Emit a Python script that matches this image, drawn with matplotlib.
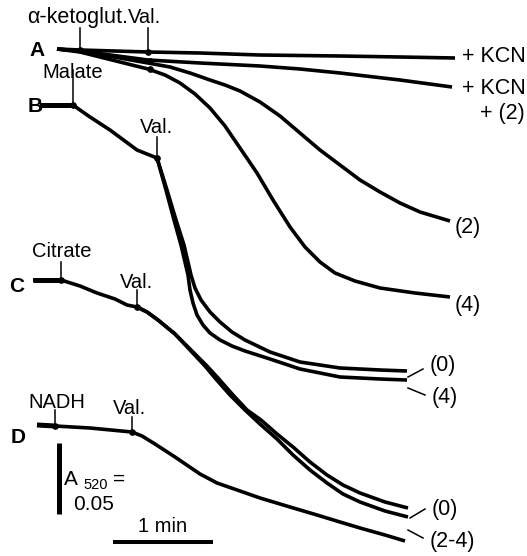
import matplotlib.pyplot as plt
import numpy as np

plt.rcParams['font.family'] = ['Liberation Sans', 'DejaVu Sans']

# traces; x: 100 units = 1 min, y: 71 units = 0.05 A520 (downward)
PX_MIN = 100.0
PX_A = 71 / 0.05

# A: alpha-ketoglutarate
a_kcn_x = [57, 80, 148, 200, 260, 340, 400, 455]
a_kcn_y = [49, 50, 52, 53, 55, 56, 57, 58]
a_kcn2_x = [57, 80, 148, 200, 260, 300, 340, 400, 452]
a_kcn2_y = [49, 51, 60, 63, 66, 69, 73, 80, 87]
a_2_x = [57, 80, 148, 170, 190, 210, 225, 240, 260, 280, 300, 320, 340, 360, 380, 400, 420, 450]
a_2_y = [49, 51, 63, 67, 73, 80, 85, 91, 102, 116, 133, 150, 165, 180, 192, 203, 212, 221]
a_4_x = [57, 80, 148, 165, 180, 195, 210, 225, 240, 257, 273, 290, 305, 320, 335, 355, 380, 415, 450]
a_4_y = [49, 52, 69, 75, 83, 94, 108, 126, 148, 173, 200, 227, 247, 262, 273, 281, 288, 293, 297]

# B: malate
b_pre_x = [40, 73, 80, 90, 110, 137, 157]
b_pre_y = [105, 105, 110, 117, 130, 150, 158]
b_0_x = [157, 167, 176, 184, 191, 195, 201, 210, 220, 232, 245, 270, 300, 340, 380, 407]
b_0_y = [158, 190, 220, 245, 275, 288, 300, 312, 322, 332, 340, 352, 362, 368, 370, 371]
b_4_x = [157, 166, 174, 181, 188, 190, 193, 197, 203, 210, 220, 232, 245, 270, 300, 340, 380, 407]
b_4_y = [158, 190, 220, 245, 275, 290, 303, 315, 325, 333, 340, 346, 351, 359, 369, 377, 379, 380]

# C: citrate
c_pre_x = [33, 61, 80, 97, 115, 127, 137]
c_pre_y = [280, 280, 286, 293, 299, 305, 307]
c_0_x = [137, 147, 158, 175, 191, 207, 218, 233, 247, 261, 277, 293, 310, 327, 343, 360, 385, 408]
c_0_y = [307, 312, 320, 334, 350, 366, 378, 395, 410, 420, 434, 447, 462, 475, 485, 493, 502, 508]
c_24_x = [137, 147, 158, 175, 190, 205, 215, 230, 245, 260, 277, 293, 310, 327, 343, 360, 385, 408]
c_24_y = [307, 312, 320, 334, 350, 366, 378, 395, 410, 424, 439, 455, 470, 483, 494, 502, 511, 517]

# D: NADH
d_x = [37, 55, 90, 132, 142, 155, 175, 200, 217, 240, 260, 290, 317, 340, 360, 385, 405]
d_y = [425, 426, 428, 432, 436, 444, 457, 474, 483, 491, 498, 507, 515, 522, 528, 535, 541]

# additions: label, tick x, text x, text baseline, tick top, tick bottom
add_names = ['\u03b1-ketoglut.', 'Val.', 'Malate', 'Val.', 'Citrate', 'Val.', 'NADH', 'Val.']
add_x = [80, 148, 73, 157, 61, 137, 55, 132]
add_tx = [27, 128, 42, 140, 32, 120, 28, 113]
add_ty = [23, 23, 78, 133, 257, 288, 408, 414]
add_top = [28, 28, 70, 137, 262, 290, 410, 417]
add_bot = [50, 52, 105, 158, 280, 307, 426, 432]
add_size = [15.5, 14.5, 14.5, 14.5, 14.5, 14.5, 14.5, 14.5]

panel_names = ['A', 'B', 'C', 'D']
panel_x = [37, 35, 17, 18]
panel_y = [50, 107, 287, 438]

end_labels = ['+ KCN', '+ KCN', '+ (2)', '(2)', '(4)', '(0)', '(4)', '(0)', '(2-4)']
end_x = [462, 462, 480, 455, 455, 430, 432, 432, 430]
end_y = [56, 89, 114, 227, 305, 366, 398, 510, 541]


def cv(xs, ys):
    return np.asarray(xs, float) / PX_MIN, -np.asarray(ys, float) / PX_A


fig, ax = plt.subplots(figsize=(5.27, 5.56), dpi=100)
ax.set_position([0, 0, 1, 1])
ax.set_xlim(0, 527 / PX_MIN)
ax.set_ylim(-556 / PX_A, 0)
ax.axis('off')

kw = dict(color='black', lw=2.6, solid_joinstyle='round', solid_capstyle='butt')
for xs, ys in [(a_kcn_x, a_kcn_y), (a_kcn2_x, a_kcn2_y), (a_2_x, a_2_y), (a_4_x, a_4_y),
               (b_pre_x, b_pre_y), (b_0_x, b_0_y), (b_4_x, b_4_y),
               (c_pre_x, c_pre_y), (c_0_x, c_0_y), (c_24_x, c_24_y), (d_x, d_y)]:
    ax.plot(*cv(xs, ys), **kw)

# thicker baseline segments before first addition
for xs, ys in [(b_pre_x[:2], b_pre_y[:2]), (c_pre_x[:2], c_pre_y[:2]), (d_x[:2], d_y[:2])]:
    ax.plot(*cv(xs, ys), color='black', lw=3.6, solid_capstyle='butt')

for name, x, tx, ty, t0, t1, fs in zip(add_names, add_x, add_tx, add_ty, add_top, add_bot, add_size):
    ax.plot(*cv([x, x], [t0, t1]), color='black', lw=1.1)
    ax.plot(*cv([x], [t1]), 'o', color='black', ms=3.8)
    ax.text(*cv(tx, ty), name, fontsize=fs, ha='left', va='baseline')
# extra dots where the A traces cross the Val. tick
ax.plot(*cv([150, 150], [61, 69]), 'o', color='black', ms=3.8, ls='none')

for name, x, y in zip(panel_names, panel_x, panel_y):
    ax.text(*cv(x, y), name, fontsize=15, fontweight='bold', ha='center', va='center')

for name, x, y in zip(end_labels, end_x, end_y):
    ax.text(*cv(x, y), name, fontsize=15.5, ha='left', va='center')

# leader lines for the crowded end labels
for x0, y0, x1, y1 in [(408, 377, 423, 369), (408, 388, 425, 395),
                       (410, 518, 425, 509), (408, 530, 423, 538)]:
    ax.plot(*cv([x0, x1], [y0, y1]), color='black', lw=1.1)

# scale bars
ax.plot(*cv([59, 59], [443, 514]), color='black', lw=3.6, solid_capstyle='butt')
ax.text(*cv(64, 485), 'A', fontsize=15, ha='left', va='baseline')
ax.text(*cv(83, 489), '520', fontsize=10.5, ha='left', va='baseline')
ax.text(*cv(113, 485), '=', fontsize=15, ha='left', va='baseline')
ax.text(*cv(73, 510), '0.05', fontsize=15, ha='left', va='baseline')
ax.plot(*cv([113, 213], [542, 542]), color='black', lw=2.9, solid_capstyle='butt')
ax.text(*cv(138, 532), '1 min', fontsize=14.5, ha='left', va='baseline')

fig.savefig('out.png', dpi=100)
